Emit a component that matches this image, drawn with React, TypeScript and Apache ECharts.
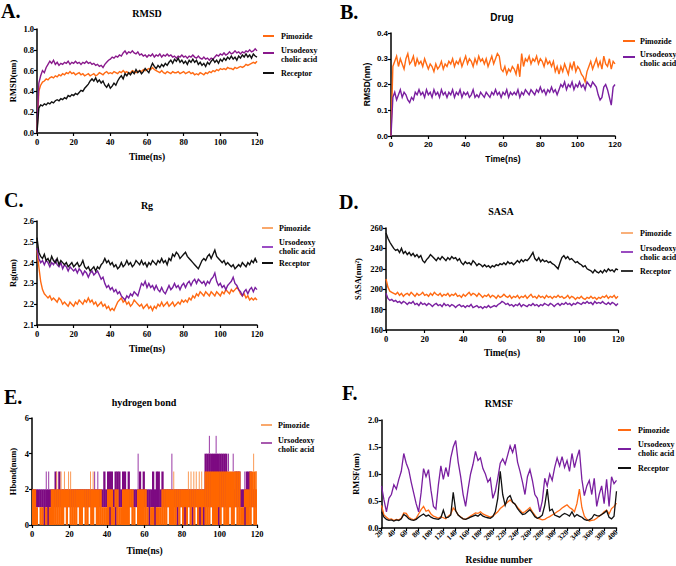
import React, { useEffect, useRef } from "react";
import * as echarts from "echarts";

// ---------------- data ----------------
// A. RMSD (nm), t = 0..120 ns, 1 ns step
const rmsdPimozide = [0.00,0.40,0.46,0.49,0.50,0.52,0.51,0.53,0.54,0.53,0.55,0.54,0.56,0.55,0.57,0.56,0.58,0.57,0.59,0.57,0.58,
0.56,0.57,0.58,0.56,0.57,0.55,0.56,0.57,0.55,0.56,0.57,0.55,0.56,0.58,0.57,0.56,0.58,0.59,0.57,0.58,
0.57,0.59,0.58,0.57,0.59,0.58,0.60,0.58,0.59,0.57,0.58,0.60,0.59,0.58,0.59,0.60,0.59,0.61,0.60,0.61,
0.62,0.61,0.63,0.61,0.60,0.59,0.58,0.60,0.58,0.57,0.59,0.58,0.57,0.59,0.58,0.58,0.59,0.57,0.58,0.59,
0.57,0.58,0.59,0.57,0.58,0.56,0.57,0.56,0.58,0.57,0.56,0.58,0.57,0.59,0.58,0.60,0.59,0.61,0.60,0.62,
0.61,0.62,0.61,0.63,0.62,0.62,0.61,0.63,0.62,0.63,0.64,0.63,0.64,0.66,0.65,0.66,0.67,0.68,0.67,0.69];
const rmsdUrso = [0.00,0.48,0.55,0.60,0.58,0.63,0.66,0.69,0.67,0.70,0.66,0.68,0.65,0.67,0.66,0.68,0.67,0.69,0.66,0.68,0.67,
0.69,0.67,0.68,0.66,0.68,0.67,0.69,0.67,0.68,0.66,0.67,0.65,0.66,0.64,0.65,0.63,0.66,0.68,0.70,0.71,
0.73,0.72,0.74,0.73,0.75,0.74,0.77,0.79,0.76,0.78,0.77,0.79,0.77,0.76,0.78,0.75,0.76,0.74,0.75,0.73,
0.75,0.74,0.76,0.73,0.75,0.74,0.76,0.73,0.75,0.74,0.76,0.74,0.75,0.73,0.74,0.72,0.74,0.73,0.75,0.73,
0.74,0.72,0.74,0.73,0.75,0.73,0.72,0.74,0.72,0.71,0.73,0.71,0.72,0.70,0.72,0.71,0.73,0.75,0.74,0.76,
0.75,0.77,0.75,0.76,0.78,0.76,0.77,0.79,0.77,0.78,0.76,0.78,0.77,0.79,0.78,0.80,0.78,0.79,0.81,0.79];
const rmsdReceptor = [0.00,0.24,0.27,0.26,0.28,0.27,0.29,0.28,0.30,0.29,0.31,0.32,0.31,0.33,0.32,0.34,0.33,0.36,0.35,0.37,0.36,
0.38,0.37,0.39,0.41,0.40,0.43,0.45,0.47,0.50,0.52,0.50,0.53,0.49,0.51,0.48,0.50,0.46,0.44,0.47,0.43,
0.45,0.48,0.46,0.50,0.53,0.55,0.52,0.57,0.55,0.58,0.56,0.59,0.57,0.61,0.58,0.60,0.57,0.59,0.62,0.60,
0.58,0.63,0.67,0.64,0.62,0.65,0.63,0.66,0.64,0.67,0.65,0.68,0.70,0.67,0.71,0.69,0.72,0.68,0.70,0.67,
0.69,0.66,0.70,0.68,0.71,0.68,0.70,0.66,0.68,0.65,0.67,0.64,0.68,0.66,0.69,0.71,0.68,0.70,0.67,0.71,
0.69,0.72,0.70,0.73,0.71,0.74,0.71,0.73,0.70,0.74,0.72,0.75,0.73,0.76,0.73,0.75,0.72,0.76,0.74,0.73];

// B. Drug RMSD (nm)
const drugPimozide = [0.00,0.27,0.29,0.31,0.27,0.30,0.28,0.26,0.30,0.32,0.28,0.29,0.31,0.27,0.30,0.28,0.29,0.27,0.30,0.28,0.26,
0.28,0.27,0.25,0.28,0.26,0.27,0.29,0.26,0.28,0.27,0.29,0.28,0.30,0.27,0.29,0.28,0.30,0.27,0.29,0.31,
0.28,0.30,0.29,0.27,0.30,0.28,0.31,0.29,0.30,0.28,0.30,0.27,0.29,0.31,0.28,0.30,0.32,0.31,0.26,0.25,
0.27,0.24,0.26,0.25,0.27,0.26,0.24,0.28,0.23,0.32,0.27,0.30,0.29,0.31,0.28,0.30,0.29,0.31,0.28,0.30,
0.29,0.27,0.30,0.28,0.29,0.27,0.29,0.25,0.27,0.24,0.27,0.25,0.28,0.26,0.24,0.28,0.26,0.29,0.25,0.27,
0.26,0.24,0.23,0.21,0.25,0.27,0.29,0.26,0.28,0.30,0.27,0.29,0.26,0.31,0.28,0.27,0.30,0.26,0.29,0.28];
const drugUrso = [0.00,0.15,0.17,0.14,0.16,0.18,0.15,0.17,0.16,0.14,0.13,0.15,0.14,0.17,0.16,0.18,0.16,0.17,0.15,0.18,0.16,
0.17,0.15,0.18,0.16,0.17,0.15,0.18,0.16,0.17,0.15,0.17,0.16,0.18,0.15,0.17,0.16,0.18,0.15,0.17,0.16,
0.17,0.15,0.16,0.18,0.15,0.16,0.15,0.17,0.16,0.15,0.17,0.16,0.15,0.17,0.16,0.18,0.16,0.17,0.15,0.17,
0.16,0.18,0.15,0.17,0.16,0.17,0.16,0.18,0.15,0.17,0.16,0.18,0.17,0.16,0.18,0.17,0.16,0.18,0.17,0.19,
0.17,0.18,0.16,0.18,0.17,0.19,0.17,0.18,0.16,0.18,0.20,0.19,0.21,0.18,0.20,0.19,0.21,0.18,0.20,0.19,
0.21,0.19,0.20,0.18,0.21,0.20,0.19,0.21,0.20,0.19,0.16,0.14,0.15,0.19,0.20,0.18,0.15,0.12,0.19,0.20];

// C. Rg (nm)
const rgPimozide = [2.46,2.38,2.31,2.27,2.25,2.24,2.23,2.24,2.22,2.23,2.22,2.21,2.23,2.22,2.20,2.21,2.20,2.19,2.21,2.20,2.19,
2.21,2.20,2.22,2.21,2.20,2.22,2.21,2.23,2.21,2.22,2.20,2.21,2.19,2.20,2.21,2.19,2.20,2.18,2.19,2.17,
2.18,2.17,2.19,2.21,2.22,2.23,2.21,2.22,2.20,2.21,2.19,2.20,2.22,2.21,2.20,2.19,2.20,2.18,2.19,2.20,
2.18,2.19,2.17,2.19,2.18,2.20,2.19,2.21,2.19,2.20,2.21,2.19,2.20,2.21,2.19,2.20,2.21,2.20,2.22,2.21,
2.22,2.21,2.23,2.22,2.24,2.23,2.25,2.24,2.26,2.25,2.24,2.26,2.25,2.24,2.26,2.25,2.24,2.26,2.25,2.24,
2.26,2.25,2.27,2.26,2.25,2.27,2.26,2.27,2.28,2.27,2.25,2.24,2.25,2.23,2.24,2.22,2.23,2.22,2.23,2.22];
const rgUrso = [2.47,2.42,2.40,2.41,2.39,2.41,2.40,2.38,2.40,2.39,2.41,2.39,2.38,2.40,2.37,2.39,2.38,2.36,2.38,2.37,2.36,
2.37,2.35,2.37,2.36,2.34,2.36,2.35,2.33,2.35,2.36,2.34,2.35,2.36,2.34,2.32,2.33,2.30,2.28,2.29,2.27,
2.28,2.26,2.27,2.25,2.26,2.24,2.23,2.22,2.24,2.23,2.25,2.24,2.26,2.25,2.24,2.27,2.30,2.29,2.31,2.28,
2.30,2.28,2.29,2.27,2.29,2.27,2.26,2.28,2.26,2.25,2.27,2.29,2.27,2.28,2.30,2.28,2.29,2.27,2.29,2.30,
2.28,2.30,2.31,2.29,2.31,2.32,2.30,2.32,2.31,2.30,2.31,2.29,2.31,2.30,2.32,2.33,2.35,2.31,2.29,2.30,
2.28,2.29,2.27,2.29,2.30,2.31,2.33,2.30,2.29,2.27,2.26,2.24,2.26,2.27,2.25,2.27,2.28,2.26,2.28,2.27];
const rgReceptor = [2.52,2.45,2.43,2.42,2.44,2.41,2.42,2.40,2.43,2.41,2.40,2.42,2.39,2.41,2.40,2.39,2.40,2.38,2.39,2.40,2.38,
2.39,2.40,2.38,2.39,2.41,2.38,2.37,2.38,2.36,2.37,2.38,2.36,2.38,2.37,2.39,2.40,2.42,2.40,2.41,2.39,
2.40,2.38,2.39,2.37,2.38,2.40,2.38,2.39,2.41,2.39,2.40,2.38,2.39,2.41,2.40,2.39,2.41,2.39,2.40,2.38,
2.40,2.39,2.41,2.40,2.39,2.41,2.40,2.42,2.40,2.41,2.39,2.42,2.41,2.44,2.43,2.45,2.44,2.42,2.43,2.44,
2.45,2.43,2.42,2.41,2.40,2.39,2.38,2.37,2.39,2.41,2.42,2.41,2.43,2.44,2.42,2.44,2.46,2.43,2.42,2.41,
2.40,2.41,2.39,2.40,2.39,2.38,2.39,2.37,2.38,2.39,2.38,2.40,2.39,2.38,2.40,2.39,2.41,2.40,2.42,2.40];

// D. SASA (nm^2)
const sasaPimozide = [210,202,198,197,196,195,197,194,196,193,195,196,194,197,195,193,196,194,195,197,194,
195,193,196,194,197,195,194,196,193,195,194,196,193,195,194,196,193,194,192,195,
193,195,197,194,196,195,193,196,194,192,194,193,195,192,194,193,191,194,192,193,
195,193,192,194,191,193,192,194,191,193,192,194,191,193,195,192,193,191,194,192,
193,191,194,192,193,191,193,192,194,192,193,191,192,194,191,193,192,190,192,191,
193,191,190,192,191,193,191,192,190,192,191,193,192,194,191,193,192,194,191,193];
const sasaUrso = [196,191,189,190,188,189,187,188,186,188,187,185,187,186,188,185,186,184,187,185,186,
184,186,185,183,185,186,184,185,183,186,184,185,183,185,184,182,184,185,183,184,
182,184,183,185,182,183,184,182,183,181,183,182,184,182,183,184,183,185,186,188,
187,185,186,184,185,183,185,184,186,183,185,184,183,185,184,186,184,185,183,185,
184,186,185,184,186,185,183,185,186,184,186,185,187,185,186,184,186,185,187,186,
185,187,186,188,186,187,185,188,186,187,186,188,186,185,187,185,187,186,184,186];
const sasaReceptor = [255,250,246,243,240,238,239,236,240,235,237,234,236,233,235,232,234,231,233,228,226,
229,231,234,232,230,228,231,229,232,230,228,231,229,232,230,231,228,230,226,224,
227,225,226,224,228,226,223,225,224,222,224,222,223,221,223,222,224,223,225,224,
226,224,227,225,226,224,226,228,226,229,227,229,228,230,233,236,230,228,231,227,
229,227,228,226,227,225,224,222,220,226,231,233,230,232,229,230,228,226,227,225,
224,222,223,220,219,218,216,219,217,216,218,216,219,217,220,218,219,217,220,219];

// E. hydrogen bonds, per 1 ns bin (0..119): lowest / highest count in the bin
const hbPimHigh = [2,2,1,1,1,1,1,1,1,1, 2,2,2,2,2,2,2,2,2,2, 2,2,2,2,2,2,2,2,2,2, 2,2,2,2,2,2,2,1,1,1,
2,2,2,1,2,2,1,1,2,2, 2,2,2,2,1,1,2,2,2,2, 2,1,1,1,1,1,1,1,1,2, 2,2,2,2,2,2,2,2,2,2,
2,2,2,2,2,2,2,2,2,2, 2,2,3,3,3,3,3,3,3,3, 3,3,3,3,3,3,3,3,3,3, 3,1,1,2,2,2,3,3,3,3];
const hbPimLow = [0,0,0,1,0,0,1,0,1,0, 0,0,0,0,0,0,0,1,0,1, 0,0,0,0,1,0,0,1,0,0, 1,0,0,1,0,0,0,0,0,0,
0,1,0,0,1,0,0,0,0,0, 0,0,1,0,0,1,0,0,0,0, 0,0,1,0,0,1,0,0,0,0, 0,0,1,0,0,0,0,1,0,1,
0,1,0,1,0,1,0,1,0,1, 0,1,0,0,0,1,0,0,0,1, 0,1,0,0,0,1,0,0,1,0, 0,0,0,1,0,0,0,1,0,0];
const hbUrsoHigh = [2,2,2,2,2,2,2,2,2,2, 2,2,3,2,3,2,2,2,2,2, 2,2,2,2,2,2,2,2,2,2, 2,2,2,2,2,2,2,2,3,2,
3,3,3,2,3,3,3,2,3,3, 2,3,2,2,2,2,2,3,2,3, 2,2,2,2,3,2,3,3,2,3, 2,2,2,2,2,2,2,2,2,2,
2,2,2,2,2,2,2,2,2,2, 2,2,4,4,4,4,4,4,4,4, 4,4,4,4,2,2,2,2,3,3, 3,2,2,2,3,3,3,2,2,2];
const hbUrsoLow = [0,0,1,1,1,1,0,1,0,1, 1,1,1,1,1,1,1,1,1,1, 1,1,1,1,1,1,1,1,1,1, 1,1,1,1,1,1,1,1,1,1,
1,0,1,1,0,1,1,1,1,1, 1,1,1,1,1,1,1,1,1,1, 1,1,0,1,1,0,1,1,1,1, 1,1,1,1,1,1,1,0,1,1,
1,0,1,1,1,0,1,1,1,0, 1,0,1,1,1,1,1,1,1,0, 1,1,1,1,1,1,1,1,1,1, 1,1,1,0,1,1,1,1,1,1];
// short single-frame excursions: [time, from, to]
const hbPimSpikes = [[13.2,2,3],[15.5,2,3],[17.3,2,3],[19.5,2,3],[20.6,2,3],[31.2,2,3],[32.6,2,3],[75.6,2,3],
[83.4,2,3],[84.8,2,3],[86.3,2,3],[87.6,2,3],[89.2,2,3],[90.5,2,3],[118.2,3,4],[119.6,2,3]];
const hbUrsoSpikes = [[7.6,2,3],[8.9,2,3],[33.4,2,3],[35.1,2,3],[56.6,2,4],[74.6,2,4],[94.6,4,5],[98.2,4,5],
[104.8,3,4],[107.3,3,4],[113.5,2,3]];

// F. RMSF (nm), residues 20..400 every 4
const rmsfPimozide = [0.42,0.24,0.20,0.16,0.17,0.14,0.16,0.15,0.18,0.28,0.27,0.20,0.17,0.15,0.18,0.26,0.34,0.40,0.31,0.33,
0.26,0.22,0.20,0.18,0.21,0.19,0.17,0.22,0.26,0.37,0.32,0.24,0.21,0.17,0.16,0.19,0.22,0.25,0.28,0.27,
0.30,0.26,0.24,0.22,0.20,0.22,0.26,0.30,0.36,0.40,0.44,0.48,0.52,0.47,0.44,0.38,0.33,0.28,0.30,0.34,
0.38,0.30,0.24,0.18,0.17,0.15,0.16,0.19,0.21,0.24,0.27,0.30,0.33,0.37,0.40,0.43,0.38,0.35,0.30,0.45,
0.72,0.38,0.22,0.16,0.13,0.14,0.15,0.18,0.22,0.25,0.30,0.33,0.26,0.36,0.40,0.46];
const rmsfUrso = [0.78,0.52,0.30,0.55,0.62,0.80,0.72,0.90,1.05,1.38,1.20,1.08,0.85,0.65,0.45,0.30,0.65,1.10,0.95,1.08,
0.70,0.40,0.35,0.80,1.15,0.90,1.12,0.95,1.30,1.50,1.62,1.22,0.95,0.62,0.40,0.72,1.00,1.18,1.42,1.25,
1.30,1.10,1.00,0.85,0.92,0.55,0.68,0.92,1.20,1.28,1.18,1.35,1.52,1.40,1.55,1.22,1.05,0.85,0.62,0.95,
1.08,0.88,0.62,0.55,0.30,0.50,0.92,0.78,1.00,0.88,1.12,1.30,1.15,1.32,1.12,1.25,1.05,1.38,1.12,1.30,
1.45,0.90,0.60,0.78,0.88,0.62,0.92,0.40,0.62,0.78,0.45,0.90,0.40,0.95,0.82,0.88];
const rmsfReceptor = [0.30,0.20,0.16,0.14,0.15,0.13,0.15,0.14,0.17,0.25,0.22,0.17,0.15,0.14,0.16,0.20,0.23,0.26,0.22,0.24,
0.20,0.18,0.17,0.16,0.19,0.33,0.19,0.20,0.24,0.66,0.32,0.24,0.20,0.17,0.16,0.18,0.20,0.22,0.24,0.22,
0.26,0.22,0.20,0.19,0.18,0.21,0.30,0.55,1.05,0.62,0.42,0.56,0.60,0.48,0.44,0.36,0.30,0.25,0.26,0.30,
0.34,0.28,0.21,0.18,0.20,0.24,0.42,0.72,0.32,0.35,0.24,0.22,0.20,0.24,0.27,0.25,0.22,0.30,0.21,0.25,
0.22,0.20,0.16,0.14,0.15,0.18,0.25,0.23,0.22,0.25,0.28,0.32,0.20,0.17,0.22,0.68];

// ---------------- styling ----------------
const SERIF = "'Liberation Serif', 'Times New Roman', serif";
const SANS = "'Liberation Sans', Arial, sans-serif";
const ORANGE = "#ff6a13";
const PURPLE = "#7a1fa0";
const PURPLE_A = "#8a1a8c";
const BLACK = "#111111";
const E_ORANGE = "#ff6600";
const E_PURPLE = "#7d0a82";

const grids = [
  { left: 37, top: 29, width: 220, height: 104 },
  { left: 391, top: 33, width: 224, height: 103 },
  { left: 37, top: 221, width: 220, height: 104 },
  { left: 386, top: 228, width: 232, height: 102 },
  { left: 32, top: 418, width: 225, height: 107 },
  { left: 381.5, top: 420, width: 235, height: 110 },
];

function xAx(gi: number, font: string, min: number, max: number, name: string, gap: number, extraLabel: any = {}) {
  return {
    type: "value", gridIndex: gi, min, max, interval: 20,
    name, nameLocation: "middle", nameGap: gap,
    nameTextStyle: { fontFamily: font, fontWeight: "bold", fontSize: font === SANS ? 8.5 : 9.5, color: "#000" },
    axisLine: { show: true, onZero: false, lineStyle: { color: "#000", width: 1.5 } },
    axisTick: { show: true, length: 3, lineStyle: { color: "#000", width: 1.2 } },
    axisLabel: { fontFamily: font, fontWeight: "bold", fontSize: font === SANS ? 8 : 8.5, color: "#000", margin: 4, ...extraLabel },
    splitLine: { show: false },
  };
}
function yAx(gi: number, font: string, min: number, max: number, interval: number, name: string, gap: number, dec: number) {
  return {
    type: "value", gridIndex: gi, min, max, interval,
    name, nameLocation: "middle", nameGap: gap, nameRotate: 90,
    nameTextStyle: { fontFamily: font, fontWeight: "bold", fontSize: 8.5, color: "#000" },
    axisLine: { show: true, onZero: false, lineStyle: { color: "#000", width: 1.5 } },
    axisTick: { show: true, length: 3, lineStyle: { color: "#000", width: 1.2 } },
    axisLabel: { fontFamily: font, fontWeight: "bold", fontSize: font === SANS ? 8 : 8.5, color: "#000", margin: 3,
      formatter: (v: number) => v.toFixed(dec) },
    splitLine: { show: false },
  };
}

const tSeries = (arr: number[]) => arr.map((v, i) => [i, v]);
const rSeries = (arr: number[]) => arr.map((v, i) => [20 + i * 4, v]);

function line(name: string, gi: number, data: number[][], color: string, width = 1.4) {
  return {
    name, type: "line", xAxisIndex: gi, yAxisIndex: gi, data, showSymbol: false, symbol: "none",
    lineStyle: { color, width, join: "miter" }, itemStyle: { color }, silent: true, z: 2,
  };
}

function binSeries(name: string, low: number[], high: number[], color: string, z: number) {
  return {
    name, type: "custom", xAxisIndex: 4, yAxisIndex: 4, clip: true, silent: true, z,
    data: high.map((h, i) => [i, low[i], h]),
    encode: { x: 0, y: [1, 2] },
    renderItem: (_p: any, api: any) => {
      const t = api.value(0), lo = api.value(1), hi = api.value(2);
      if (hi <= lo) return { type: "group", children: [] };
      const a = api.coord([t, hi]);
      const b = api.coord([t + 1, lo]);
      return { type: "rect", shape: { x: a[0], y: a[1], width: b[0] - a[0] + 0.4, height: b[1] - a[1] }, style: { fill: color } };
    },
  };
}
function spikeSeries(name: string, spikes: number[][], color: string, z: number) {
  return {
    name, type: "custom", xAxisIndex: 4, yAxisIndex: 4, clip: true, silent: true, z,
    data: spikes,
    encode: { x: 0, y: [1, 2] },
    renderItem: (_p: any, api: any) => {
      const a = api.coord([api.value(0), api.value(1)]);
      const b = api.coord([api.value(0), api.value(2)]);
      return { type: "line", shape: { x1: a[0], y1: a[1], x2: b[0], y2: b[1] }, style: { stroke: color, lineWidth: 1 } };
    },
  };
}

function text(x: number, y: number, t: string, size: number, font: string, align = "left", lh?: number) {
  return {
    type: "text", x, y, silent: true,
    style: { text: t, fontFamily: font, fontWeight: "bold", fontSize: size, fill: "#000", align, verticalAlign: "middle", lineHeight: lh },
  };
}
type LegItem = { label: string; color: string; y: number; ly?: number };
function legend(x1: number, x2: number, tx: number, items: LegItem[]) {
  const out: any[] = [];
  items.forEach((it) => {
    const ly = it.ly ?? it.y;
    out.push({ type: "line", silent: true, shape: { x1, y1: ly, x2, y2: ly }, style: { stroke: it.color, lineWidth: 2 } });
    out.push(text(tx, it.y, it.label, 8, SERIF, "left", 9));
  });
  return out;
}

const URSO = "Ursodeoxy\ncholic acid";

export default function App() {
  const ref = useRef<HTMLDivElement>(null);
  useEffect(() => {
    if (!ref.current) return;
    const chart = echarts.init(ref.current, undefined, { renderer: "svg" });
    const option: any = {
      animation: false,
      backgroundColor: "#ffffff",
      grid: grids.map((g) => ({ ...g, containLabel: false })),
      xAxis: [
        xAx(0, SERIF, 0, 120, "Time(ns)", 19),
        xAx(1, SANS, 0, 120, "Time(ns)", 18),
        xAx(2, SERIF, 0, 120, "Time(ns)", 19),
        xAx(3, SERIF, 0, 120, "Time(ns)", 18),
        xAx(4, SERIF, 0, 120, "Time(ns)", 21),
        xAx(5, SERIF, 20, 400, "Residue number", 27, { rotate: 45, fontSize: 7.5, margin: 3 }),
      ],
      yAxis: [
        yAx(0, SERIF, 0, 1, 0.2, "RMSD(nm)", 20, 1),
        yAx(1, SANS, 0, 0.4, 0.1, "RMSD(nm)", 20, 1),
        yAx(2, SERIF, 2.1, 2.6, 0.1, "Rg(nm)", 20, 1),
        yAx(3, SERIF, 160, 260, 20, "SASA(nm²)", 24, 0),
        yAx(4, SERIF, 0, 6, 2, "Hbond(num)", 15, 0),
        yAx(5, SERIF, 0, 2, 0.5, "RMSF(nm)", 21, 1),
      ],
      series: [
        line("Pimozide", 0, tSeries(rmsdPimozide), ORANGE),
        line("Ursodeoxy cholic acid", 0, tSeries(rmsdUrso), PURPLE_A),
        line("Receptor", 0, tSeries(rmsdReceptor), BLACK),
        line("Pimozide", 1, tSeries(drugPimozide), ORANGE),
        line("Ursodeoxy cholic acid", 1, tSeries(drugUrso), PURPLE),
        line("Pimozide", 2, tSeries(rgPimozide), ORANGE),
        line("Ursodeoxy cholic acid", 2, tSeries(rgUrso), PURPLE),
        line("Receptor", 2, tSeries(rgReceptor), BLACK),
        line("Pimozide", 3, tSeries(sasaPimozide), ORANGE),
        line("Ursodeoxy cholic acid", 3, tSeries(sasaUrso), PURPLE),
        line("Receptor", 3, tSeries(sasaReceptor), BLACK),
        binSeries("Ursodeoxy cholic acid", hbUrsoLow, hbUrsoHigh, E_PURPLE, 2),
        binSeries("Pimozide", hbPimLow, hbPimHigh, E_ORANGE, 3),
        spikeSeries("Ursodeoxy cholic acid", hbUrsoSpikes, "#9a3aa6", 4),
        spikeSeries("Pimozide", hbPimSpikes, "#fb9a55", 4),
        line("Pimozide", 5, rSeries(rmsfPimozide), ORANGE, 1.3),
        line("Ursodeoxy cholic acid", 5, rSeries(rmsfUrso), PURPLE, 1.3),
        line("Receptor", 5, rSeries(rmsfReceptor), BLACK, 1.3),
      ],
      graphic: [
        // panel letters
        text(1, 11, "A.", 20, SERIF),
        text(340, 11.5, "B.", 20, SERIF),
        text(4, 200, "C.", 20, SERIF),
        text(339, 201.5, "D.", 20, SERIF),
        text(4, 396.5, "E.", 20, SERIF),
        text(342, 392.5, "F.", 20, SERIF),
        // titles
        text(147, 13, "RMSD", 10, SERIF, "center"),
        text(502, 17, "Drug", 10, SANS, "center"),
        text(147, 205, "Rg", 10, SERIF, "center"),
        text(501, 211, "SASA", 10, SERIF, "center"),
        text(144, 402, "hydrogen bond", 10, SERIF, "center"),
        text(499, 403, "RMSF", 10, SERIF, "center"),
        // legends
        ...legend(263, 274, 281, [
          { label: "Pimozide", color: ORANGE, y: 36 },
          { label: URSO, color: PURPLE_A, y: 55, ly: 53 },
          { label: "Receptor", color: BLACK, y: 73 },
        ]),
        ...legend(623, 635, 640, [
          { label: "Pimozide", color: ORANGE, y: 41 },
          { label: URSO, color: PURPLE, y: 59, ly: 57 },
        ]),
        ...legend(262, 273, 279, [
          { label: "Pimozide", color: "#f9a86c", y: 228 },
          { label: URSO, color: "#9b4dc4", y: 247, ly: 247 },
          { label: "Receptor", color: BLACK, y: 263 },
        ]),
        ...legend(621, 633, 640, [
          { label: "Pimozide", color: "#f9b07a", y: 233 },
          { label: URSO, color: "#9a4cc0", y: 252.5, ly: 252 },
          { label: "Receptor", color: "#333333", y: 271 },
        ]),
        ...legend(261, 272, 278, [
          { label: "Pimozide", color: "#f9a86c", y: 425 },
          { label: URSO, color: "#a85aae", y: 444.5, ly: 443 },
        ]),
        ...legend(618, 631, 638, [
          { label: "Pimozide", color: ORANGE, y: 430 },
          { label: URSO, color: PURPLE, y: 448.5, ly: 449 },
          { label: "Receptor", color: BLACK, y: 468 },
        ]),
      ],
    };
    chart.setOption(option);
    return () => chart.dispose();
  }, []);
  return <div ref={ref} style={{ position: "absolute", left: 0, top: 0, width: 676, height: 566 }} />;
}
